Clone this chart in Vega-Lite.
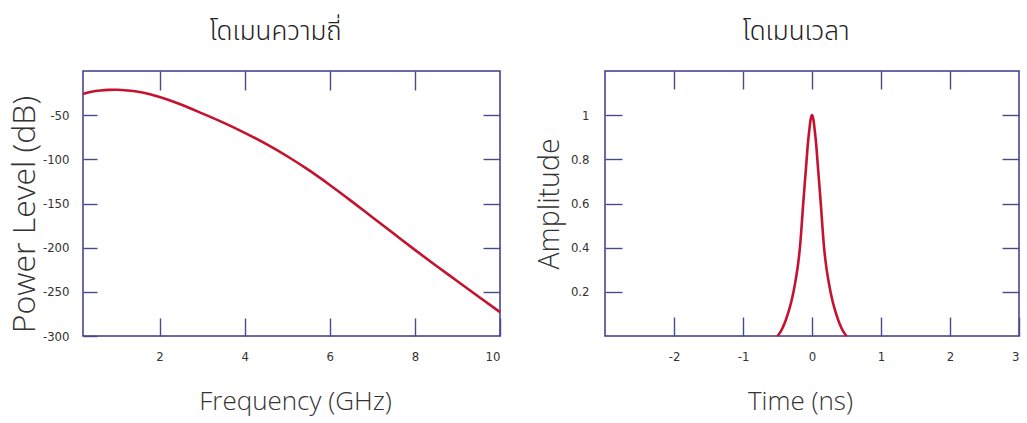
{
  "$schema": "https://vega.github.io/schema/vega-lite/v6.json",
  "background": "white",
  "padding": {"left": 7, "top": 18, "right": 3, "bottom": 5},
  "datasets": {
    "freq": [
      {"f": 0.2, "p": -26}, {"f": 0.4, "p": -23.6}, {"f": 0.6, "p": -22.1}, {"f": 0.8, "p": -21.4},
      {"f": 1.0, "p": -21.3}, {"f": 1.25, "p": -22}, {"f": 1.5, "p": -23.5}, {"f": 1.75, "p": -26},
      {"f": 2.0, "p": -29.5}, {"f": 2.5, "p": -38}, {"f": 3.0, "p": -48}, {"f": 3.5, "p": -58.5},
      {"f": 4.0, "p": -70}, {"f": 4.5, "p": -82.5}, {"f": 5.0, "p": -96.5}, {"f": 5.5, "p": -112},
      {"f": 6.0, "p": -129}, {"f": 6.5, "p": -147}, {"f": 7.0, "p": -165.5}, {"f": 7.5, "p": -184},
      {"f": 8.0, "p": -202.5}, {"f": 8.5, "p": -220.5}, {"f": 9.0, "p": -238}, {"f": 9.5, "p": -255.5},
      {"f": 10.0, "p": -273}
    ],
    "time": [
      {"t": -0.5, "a": 0}, {"t": -0.45, "a": 0.022}, {"t": -0.4, "a": 0.055}, {"t": -0.35, "a": 0.1},
      {"t": -0.3, "a": 0.155}, {"t": -0.25, "a": 0.23}, {"t": -0.2, "a": 0.33}, {"t": -0.175, "a": 0.4},
      {"t": -0.15, "a": 0.5}, {"t": -0.125, "a": 0.61}, {"t": -0.1, "a": 0.71}, {"t": -0.08, "a": 0.79},
      {"t": -0.06, "a": 0.87}, {"t": -0.04, "a": 0.93}, {"t": -0.02, "a": 0.98}, {"t": 0, "a": 1.0},
      {"t": 0.02, "a": 0.98}, {"t": 0.04, "a": 0.93}, {"t": 0.06, "a": 0.87}, {"t": 0.08, "a": 0.79},
      {"t": 0.1, "a": 0.71}, {"t": 0.125, "a": 0.61}, {"t": 0.15, "a": 0.5}, {"t": 0.175, "a": 0.4},
      {"t": 0.2, "a": 0.33}, {"t": 0.25, "a": 0.23}, {"t": 0.3, "a": 0.155}, {"t": 0.35, "a": 0.1},
      {"t": 0.4, "a": 0.055}, {"t": 0.45, "a": 0.022}, {"t": 0.5, "a": 0}
    ]
  },
  "config": {
    "view": {"stroke": "#3a3a8c", "strokeWidth": 1.5},
    "axis": {
      "domain": false, "grid": false,
      "tickColor": "#4a4a8a", "tickWidth": 1.4,
      "labelFont": "DejaVu Sans Condensed, Liberation Sans", "labelFontSize": 13, "labelColor": "#333333",
      "labelExpr": "datum.value + ''",
      "titleFont": "Open Sans", "titleFontWeight": 300, "titleColor": "#333333"
    },
    "title": {"font": "Noto Sans Thai", "fontSize": 26, "fontWeight": 300, "color": "#222222", "offset": 25},
    "concat": {"spacing": 28}
  },
  "hconcat": [
    {
      "title": {"text": "โดเมนความถี่", "dx": -16},
      "width": 417, "height": 265,
      "data": {"name": "freq"},
      "layer": [
        {
          "mark": {"type": "line", "color": "#c4122f", "strokeWidth": 2.6, "interpolate": "monotone"},
          "encoding": {
            "x": {"field": "f", "type": "quantitative",
              "scale": {"domain": [0.2, 10], "nice": false, "zero": false},
              "axis": {"orient": "bottom", "values": [2, 4, 6, 8, 10], "tickSize": -18, "labelPadding": 32,
                "title": "Frequency (GHz)", "titleFontSize": 26, "titlePadding": 25, "titleX": 212}},
            "y": {"field": "p", "type": "quantitative",
              "scale": {"domain": [-300, 0], "nice": false, "zero": false},
              "axis": {"orient": "left", "values": [-300, -250, -200, -150, -100, -50], "tickSize": -14, "labelPadding": 28,
                "title": "Power Level (dB)", "titleFontSize": 32, "titlePadding": 1, "titleY": 143}}
          }
        },
        {
          "mark": {"type": "line", "opacity": 0},
          "encoding": {
            "x": {"field": "f", "type": "quantitative",
              "axis": {"orient": "top", "values": [2, 4, 6, 8], "tickSize": -19, "labels": false, "title": null}},
            "y": {"field": "p", "type": "quantitative",
              "axis": {"orient": "right", "values": [-250, -200, -150, -100, -50], "tickSize": -17, "labels": false, "title": null}}
          }
        }
      ],
      "resolve": {"axis": {"x": "independent", "y": "independent"}}
    },
    {
      "title": {"text": "โดเมนเวลา", "dx": -16},
      "width": 414, "height": 265,
      "data": {"name": "time"},
      "layer": [
        {
          "mark": {"type": "line", "color": "#c4122f", "strokeWidth": 2.6, "interpolate": "monotone"},
          "encoding": {
            "x": {"field": "t", "type": "quantitative",
              "scale": {"domain": [-3, 3], "nice": false, "zero": false},
              "axis": {"orient": "bottom", "values": [-2, -1, 0, 1, 2, 3], "tickSize": -19, "labelPadding": 33,
                "title": "Time (ns)", "titleFontSize": 26, "titlePadding": 25, "titleX": 195}},
            "y": {"field": "a", "type": "quantitative",
              "scale": {"domain": [0, 1.2], "nice": false},
              "axis": {"orient": "left", "values": [0.2, 0.4, 0.6, 0.8, 1], "tickSize": -17, "labelPadding": 33,
                "title": "Amplitude", "titleFontSize": 28.5, "titlePadding": 6}}
          }
        },
        {
          "mark": {"type": "line", "opacity": 0},
          "encoding": {
            "x": {"field": "t", "type": "quantitative",
              "axis": {"orient": "top", "values": [-2, -1, 0, 1, 2], "tickSize": -18, "labels": false, "title": null}},
            "y": {"field": "a", "type": "quantitative",
              "axis": {"orient": "right", "values": [0.2, 0.4, 0.6, 0.8, 1], "tickSize": -17, "labels": false, "title": null}}
          }
        }
      ],
      "resolve": {"axis": {"x": "independent", "y": "independent"}}
    }
  ]
}
